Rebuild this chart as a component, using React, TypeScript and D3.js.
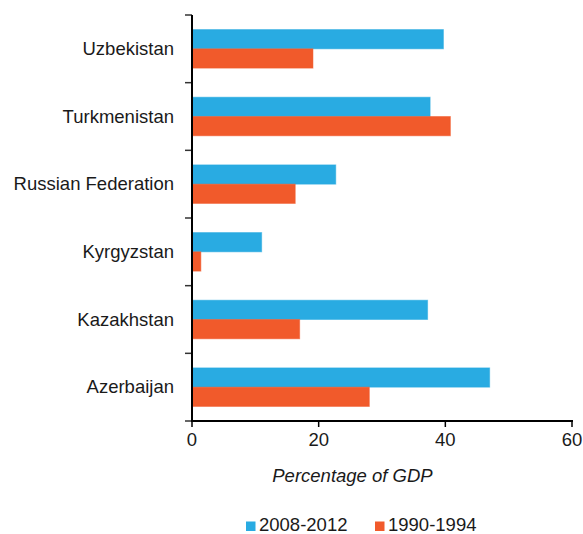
import React from "react";
import { scaleBand, scaleLinear } from "d3";

const countries = [
  "Uzbekistan",
  "Turkmenistan",
  "Russian Federation",
  "Kyrgyzstan",
  "Kazakhstan",
  "Azerbaijan",
];
const recent = [39.7, 37.6, 22.7, 11.0, 37.2, 47.0];
const early = [19.1, 40.8, 16.3, 1.4, 17.0, 28.0];
const seriesNames = ["2008-2012", "1990-1994"];
const seriesColors = ["#29abe2", "#f15a2b"];
const xTicks = [0, 20, 40, 60];

const W = 583;
const H = 534;
const left = 192;
const right = 572;
const top = 15;
const bottom = 421;
const font = "'Liberation Sans', Arial, Helvetica, sans-serif";

export default function App() {
  const x = scaleLinear().domain([0, 60]).range([left, right]);
  const y = scaleBand<string>().domain(countries).range([top, bottom]).padding(0);
  const inner = scaleBand<string>()
    .domain(seriesNames)
    .range([0, y.bandwidth()])
    .paddingInner(0)
    .paddingOuter(0.754);
  const values = [recent, early];

  return (
    <svg
      width={W}
      height={H}
      style={{ position: "absolute", left: 0, top: 0, fontFamily: font }}
    >
      <rect width={W} height={H} fill="#fff" />
      {countries.map((c, i) => (
        <g key={c}>
          {seriesNames.map((s, k) => (
            <rect
              key={s}
              x={x(0)}
              y={(y(c) ?? 0) + (inner(s) ?? 0)}
              width={x(values[k][i]) - x(0)}
              height={inner.bandwidth()}
              fill={seriesColors[k]}
              stroke={seriesColors[k]}
              strokeOpacity={0.5}
              strokeWidth={1}
            />
          ))}
          <text
            x={174}
            y={(y(c) ?? 0) + y.bandwidth() / 2}
            dy="0.33em"
            textAnchor="end"
            fontSize={18.5}
            fill="#1a1a1a"
          >
            {c}
          </text>
        </g>
      ))}
      {/* y axis ticks */}
      {[...countries.map((c) => y(c) ?? 0), bottom].map((t, i) => (
        <line key={i} x1={185} x2={left} y1={t} y2={t} stroke="#333" strokeWidth={1.5} />
      ))}
      <line x1={left} x2={left} y1={top} y2={bottom + 1} stroke="#000" strokeWidth={2} />
      {/* x axis */}
      <line x1={left - 1} x2={right + 1} y1={bottom} y2={bottom} stroke="#000" strokeWidth={2} />
      {xTicks.map((t) => (
        <g key={t}>
          <line x1={x(t)} x2={x(t)} y1={bottom} y2={bottom + 6} stroke="#000" strokeWidth={1.5} />
          <text x={x(t)} y={446} textAnchor="middle" fontSize={18.5} fill="#1a1a1a">
            {t}
          </text>
        </g>
      ))}
      <text x={352.5} y={482} textAnchor="middle" fontSize={18.5} fontStyle="italic" fill="#1a1a1a">
        Percentage of GDP
      </text>
      {/* legend */}
      {seriesNames.map((s, k) => {
        const lx = k === 0 ? 246 : 375;
        return (
          <g key={s}>
            <rect x={lx} y={521.5} width={9.5} height={9.5} fill={seriesColors[k]} />
            <text x={lx + 13} y={531} fontSize={18.5} fill="#1a1a1a">
              {s}
            </text>
          </g>
        );
      })}
    </svg>
  );
}
